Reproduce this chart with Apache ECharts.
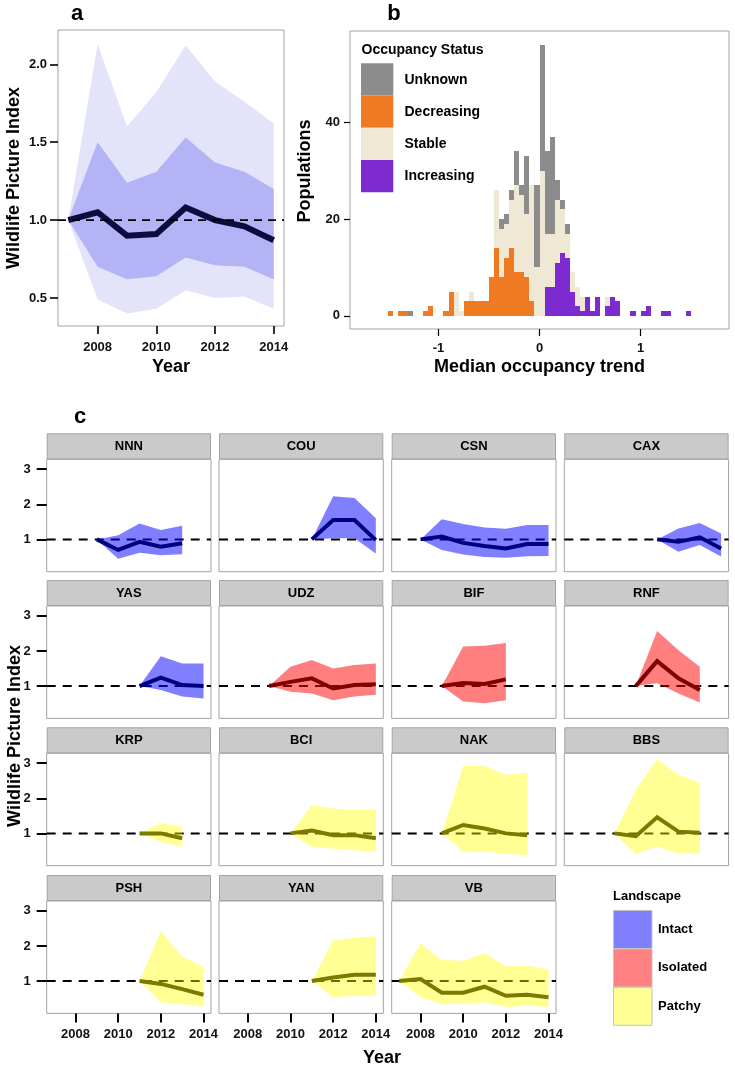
<!DOCTYPE html>
<html>
<head>
<meta charset="utf-8">
<script src="https://cdn.jsdelivr.net/npm/echarts@6/dist/echarts.min.js"></script>
<style>html,body{margin:0;padding:0;background:#fff}#chart{width:735px;height:1066px}</style>
</head>
<body>
<div id="chart"></div>
<script>
// ---------- Panel a data ----------
const aYears      = [2007, 2008, 2009, 2010, 2011, 2012, 2013, 2014];
const aIndex      = [1.00, 1.05, 0.90, 0.91, 1.08, 1.00, 0.96, 0.87];
const aInnerLow   = [1.00, 0.70, 0.62, 0.64, 0.76, 0.71, 0.70, 0.62];
const aInnerHigh  = [1.00, 1.50, 1.24, 1.31, 1.53, 1.37, 1.31, 1.20];
const aOuterLow   = [1.00, 0.49, 0.40, 0.43, 0.55, 0.50, 0.51, 0.43];
const aOuterHigh  = [1.00, 2.13, 1.60, 1.82, 2.12, 1.89, 1.76, 1.62];
const aYTicks     = [0.5, 1.0, 1.5, 2.0];
const yearTicks   = [2008, 2010, 2012, 2014];

// ---------- Panel b data (histogram, bin width 0.05) ----------
const binLeft = [-1.50,-1.45,-1.40,-1.35,-1.30,-1.25,-1.20,-1.15,-1.10,-1.05,
                 -1.00,-0.95,-0.90,-0.85,-0.80,-0.75,-0.70,-0.65,-0.60,-0.55,
                 -0.50,-0.45,-0.40,-0.35,-0.30,-0.25,-0.20,-0.15,-0.10,-0.05,
                  0.00, 0.05, 0.10, 0.15, 0.20, 0.25, 0.30, 0.35, 0.40, 0.45,
                  0.50, 0.55, 0.60, 0.65, 0.70, 0.75, 0.80, 0.85, 0.90, 0.95,
                  1.00, 1.05, 1.10, 1.15, 1.20, 1.25, 1.30, 1.35, 1.40, 1.45];
const binWidth = 0.05;
const increasingCounts = [0,0,0,0,0,0,0,0,0,0, 0,0,0,0,0,0,0,0,0,0, 0,0,0,0,0,0,0,0,0,0,
                          0,6,6,11,13,12,5,2,1,4, 1,4,0,2,4,3,0,0,1,0, 1,2,0,0,1,1,0,0,0,1];
const decreasingCounts = [1,0,1,1,0,0,0,1,2,0, 0,1,5,0,0,3,3,3,3,3, 8,14,8,12,14,9,9,8,3,0,
                          0,0,0,0,0,0,0,0,0,0, 0,0,0,0,0,0,0,0,0,0, 0,0,0,0,0,0,0,0,0,0];
const stableCounts     = [0,0,0,0,0,0,0,0,0,0, 0,0,0,5,1,0,2,0,0,0, 0,12,10,7,10,18,16,13,24,10,
                          30,11,11,13,9,5,4,4,3,0, 0,0,0,2,0,0,0,0,0,0, 0,0,0,0,0,0,0,0,0,0];
const unknownCounts    = [0,0,0,0,1,0,0,0,0,0, 0,0,0,0,0,0,0,0,0,0, 0,0,2,2,2,7,2,12,0,17,
                          26,17,20,4,2,2,0,0,0,0, 0,0,0,0,0,0,0,0,0,0, 0,0,0,0,0,0,0,0,0,0];
const statusNames  = ['Unknown', 'Decreasing', 'Stable', 'Increasing'];
const bXTicks = [-1, 0, 1];
const bYTicks = [0, 20, 40];

// ---------- Panel c data (years 2007..2014, null = no survey) ----------
const facetYears = [2007, 2008, 2009, 2010, 2011, 2012, 2013, 2014];
const facetNames = ['NNN','COU','CSN','CAX','YAS','UDZ','BIF','RNF','KRP','BCI','NAK','BBS','PSH','YAN','VB'];
const facetLandscape = ['Intact','Intact','Intact','Intact','Intact','Isolated','Isolated','Isolated',
                        'Patchy','Patchy','Patchy','Patchy','Patchy','Patchy','Patchy'];
const landscapeNames = ['Intact','Isolated','Patchy'];
const cYTicks = [1, 2, 3];

const NNN_index = [null,null,1.00,0.70,0.93,0.79,0.89,null];
const NNN_low   = [null,null,1.00,0.45,0.62,0.55,0.58,null];
const NNN_high  = [null,null,1.00,1.12,1.45,1.27,1.39,null];
const COU_index = [null,null,null,null,1.00,1.55,1.55,0.98];
const COU_low   = [null,null,null,null,1.00,1.03,1.03,0.60];
const COU_high  = [null,null,null,null,1.00,2.23,2.18,1.60];
const CSN_index = [null,1.00,1.08,0.90,0.81,0.74,0.87,0.87];
const CSN_low   = [null,1.00,0.70,0.57,0.50,0.48,0.52,0.53];
const CSN_high  = [null,1.00,1.57,1.44,1.34,1.30,1.41,1.41];
const CAX_index = [null,null,null,null,1.00,0.93,1.06,0.74];
const CAX_low   = [null,null,null,null,1.00,0.65,0.84,0.51];
const CAX_high  = [null,null,null,null,1.00,1.31,1.47,1.17];
const YAS_index = [null,null,null,null,1.00,1.24,1.03,1.00];
const YAS_low   = [null,null,null,null,1.00,0.89,0.70,0.65];
const YAS_high  = [null,null,null,null,1.00,1.85,1.64,1.64];
const UDZ_index = [null,null,1.00,1.12,1.22,0.93,1.03,1.05];
const UDZ_low   = [null,null,1.00,0.84,0.79,0.60,0.70,0.75];
const UDZ_high  = [null,null,1.00,1.55,1.74,1.50,1.60,1.64];
const BIF_index = [null,null,1.00,1.09,1.06,1.19,null,null];
const BIF_low   = [null,null,1.00,0.56,0.51,0.60,null,null];
const BIF_high  = [null,null,1.00,2.13,2.15,2.23,null,null];
const RNF_index = [null,null,null,1.00,1.71,1.22,0.89,null];
const RNF_low   = [null,null,null,1.00,1.08,0.79,0.53,null];
const RNF_high  = [null,null,null,1.00,2.57,2.02,1.55,null];
const KRP_index = [null,null,null,null,1.00,1.00,0.86,null];
const KRP_low   = [null,null,null,null,1.00,0.76,0.62,null];
const KRP_high  = [null,null,null,null,1.00,1.29,1.19,null];
const BCI_index = [null,null,null,1.00,1.08,0.95,0.95,0.86];
const BCI_low   = [null,null,null,1.00,0.62,0.57,0.52,0.48];
const BCI_high  = [null,null,null,1.00,1.81,1.71,1.67,1.67];
const NAK_index = [null,null,1.00,1.24,1.14,1.00,0.95,null];
const NAK_low   = [null,null,1.00,0.48,0.48,0.43,0.38,null];
const NAK_high  = [null,null,1.00,2.92,2.92,2.67,2.73,null];
const BBS_index = [null,null,1.00,0.92,1.46,1.05,1.02,null];
const BBS_low   = [null,null,1.00,0.41,0.62,0.43,0.43,null];
const BBS_high  = [null,null,1.00,2.24,3.11,2.67,2.45,null];
const PSH_index = [null,null,null,null,1.00,0.92,0.77,0.61];
const PSH_low   = [null,null,null,null,1.00,0.40,0.35,0.27];
const PSH_high  = [null,null,null,null,1.00,2.42,1.69,1.41];
const YAN_index = [null,null,null,null,1.00,1.10,1.18,1.18];
const YAN_low   = [null,null,null,null,1.00,0.54,0.58,0.58];
const YAN_high  = [null,null,null,null,1.00,2.16,2.24,2.28];
const VB_index  = [1.00,1.06,0.67,0.67,0.84,0.58,0.61,0.54];
const VB_low    = [1.00,0.54,0.35,0.35,0.40,0.26,0.30,0.26];
const VB_high   = [1.00,2.07,1.60,1.58,1.79,1.43,1.44,1.33];

const facetData = {
  NNN:[NNN_index,NNN_low,NNN_high], COU:[COU_index,COU_low,COU_high], CSN:[CSN_index,CSN_low,CSN_high],
  CAX:[CAX_index,CAX_low,CAX_high], YAS:[YAS_index,YAS_low,YAS_high], UDZ:[UDZ_index,UDZ_low,UDZ_high],
  BIF:[BIF_index,BIF_low,BIF_high], RNF:[RNF_index,RNF_low,RNF_high], KRP:[KRP_index,KRP_low,KRP_high],
  BCI:[BCI_index,BCI_low,BCI_high], NAK:[NAK_index,NAK_low,NAK_high], BBS:[BBS_index,BBS_low,BBS_high],
  PSH:[PSH_index,PSH_low,PSH_high], YAN:[YAN_index,YAN_low,YAN_high], VB:[VB_index,VB_low,VB_high]
};

// ---------- styling ----------
const FONT = '"Liberation Sans", Arial, Helvetica, sans-serif';
const BORDER = '#a3a3a3';
const X_MIN = 2006.65, X_MAX = 2014.35;
const statusColors = {Unknown:'#8c8c8c', Decreasing:'#ee7b22', Stable:'#eee8d5', Increasing:'#7d2ad0'};
const landFill = {Intact:'rgba(0,0,255,0.5)', Isolated:'rgba(255,0,0,0.5)', Patchy:'rgba(255,255,0,0.42)'};
const landKey  = {Intact:'#8080ff', Isolated:'#ff8080', Patchy:'#ffff94'};
const landLine = {Intact:'#000080', Isolated:'#800000', Patchy:'#7a7a00'};

const grids = [], xAxes = [], yAxes = [], series = [], graphics = [];

function tickLabel(size) {
  return {fontFamily: FONT, fontWeight: 'bold', fontSize: size, color: '#111'};
}
function bandSeries(gi, xs, lo, hi, color, z) {
  const pts = [];
  xs.forEach((x, i) => { if (lo[i] != null && hi[i] != null) pts.push([x, lo[i], hi[i]]); });
  return {
    type: 'custom', xAxisIndex: gi, yAxisIndex: gi, z: z, silent: true,
    data: pts, encode: {x: 0, y: [1, 2]},
    renderItem: function (params, api) {
      if (params.dataIndex !== 0) return null;
      const up = pts.map(p => api.coord([p[0], p[2]]));
      const dn = pts.slice().reverse().map(p => api.coord([p[0], p[1]]));
      return {type: 'polygon', shape: {points: up.concat(dn)}, style: {fill: color}};
    }
  };
}
function lineSeries(gi, xs, ys, color, width, z) {
  const pts = [];
  xs.forEach((x, i) => { if (ys[i] != null) pts.push([x, ys[i]]); });
  return {type: 'line', xAxisIndex: gi, yAxisIndex: gi, z: z, silent: true, data: pts,
          symbol: 'none', lineStyle: {color: color, width: width, cap: 'butt', join: 'miter'}};
}
function refSeries(gi, width, dash, z) {
  return {type: 'line', xAxisIndex: gi, yAxisIndex: gi, z: z, silent: true,
          data: [[X_MIN, 1], [X_MAX, 1]], symbol: 'none',
          lineStyle: {color: '#000', width: width, type: dash}};
}
function text(x, y, str, size, opts) {
  return Object.assign({type: 'text', x: x, y: y, silent: true,
    style: {text: str, fontFamily: FONT, fontWeight: 'bold', fontSize: size, fill: '#000',
            align: 'center', verticalAlign: 'middle'}}, opts || {});
}
const noLine = {show: false, onZero: false};

// ---------- Panel a ----------
grids.push({left: 58, top: 30, width: 226, height: 296, show: true, borderColor: BORDER, borderWidth: 1});
xAxes.push({gridIndex: 0, type: 'value', min: X_MIN, max: X_MAX, splitLine: {show: false},
  axisLine: noLine,
  axisTick: {show: true, length: 8, lineStyle: {color: '#000', width: 1.6}, customValues: yearTicks},
  axisLabel: Object.assign({margin: 15, customValues: yearTicks, formatter: v => String(v)}, tickLabel(13))});
yAxes.push({gridIndex: 0, type: 'value', min: 0.32, max: 2.22, splitLine: {show: false},
  axisLine: noLine,
  axisTick: {show: true, length: 8, lineStyle: {color: '#000', width: 1.6}, customValues: aYTicks},
  axisLabel: Object.assign({margin: 11, customValues: aYTicks, formatter: v => v.toFixed(1)}, tickLabel(13))});
series.push(bandSeries(0, aYears, aOuterLow, aOuterHigh, '#e3e3fa', 1));
series.push(bandSeries(0, aYears, aInnerLow, aInnerHigh, '#b3b3f5', 2));
series.push(lineSeries(0, aYears, aIndex, '#0c0c3e', 6, 3));
series.push(refSeries(0, 1.8, [8, 6], 4));

// ---------- Panel b ----------
grids.push({left: 350, top: 31, width: 379, height: 298, show: true, borderColor: BORDER, borderWidth: 1});
xAxes.push({gridIndex: 1, type: 'value', min: -1.875, max: 1.875, splitLine: {show: false},
  axisLine: noLine,
  axisTick: {show: true, length: 7, lineStyle: {color: '#000', width: 1.2}, customValues: bXTicks},
  axisLabel: Object.assign({margin: 13, customValues: bXTicks, formatter: v => String(v)}, tickLabel(13))});
yAxes.push({gridIndex: 1, type: 'value', min: -2.7, max: 58.8, splitLine: {show: false},
  axisLine: noLine,
  axisTick: {show: true, length: 6, lineStyle: {color: '#000', width: 1.2}, customValues: bYTicks},
  axisLabel: Object.assign({margin: 10, customValues: bYTicks, formatter: v => String(v)}, tickLabel(13))});

const stackOrder = [['Increasing', increasingCounts], ['Decreasing', decreasingCounts],
                    ['Stable', stableCounts], ['Unknown', unknownCounts]];
const base = binLeft.map(() => 0);
stackOrder.forEach(([name, counts]) => {
  const items = [];
  binLeft.forEach((x0, i) => {
    if (counts[i] > 0) {
      items.push([x0, x0 + binWidth, base[i], base[i] + counts[i]]);
      base[i] += counts[i];
    }
  });
  const col = statusColors[name];
  series.push({type: 'custom', name: name, xAxisIndex: 1, yAxisIndex: 1, silent: true, z: 2,
    data: items, encode: {x: [0, 1], y: [2, 3]},
    renderItem: function (params, api) {
      const p0 = api.coord([api.value(0), api.value(3)]);
      const p1 = api.coord([api.value(1), api.value(2)]);
      const x0 = Math.round(p0[0]), x1 = Math.round(p1[0]);
      const y0 = Math.round(p0[1]), y1 = Math.round(p1[1]);
      return {type: 'rect', shape: {x: x0, y: y0, width: x1 - x0, height: y1 - y0},
              style: {fill: col}};
    }});
});

// Occupancy legend
graphics.push({type: 'text', x: 361.5, y: 50.5, silent: true,
  style: {text: 'Occupancy Status', fontFamily: FONT, fontWeight: 'bold', fontSize: 14, fill: '#000',
          align: 'left', verticalAlign: 'middle'}});
statusNames.forEach((name, k) => {
  const top = 63.3 + k * 32.25;
  graphics.push({type: 'rect', silent: true, shape: {x: 361, y: top, width: 32.3, height: 32.25},
    style: {fill: statusColors[name]}});
  graphics.push({type: 'text', x: 404.5, y: top + 16.5, silent: true,
    style: {text: name, fontFamily: FONT, fontWeight: 'bold', fontSize: 14, fill: '#000',
            align: 'left', verticalAlign: 'middle'}});
});

// ---------- Panel c ----------
const colLeft = [46.7, 219.0, 391.7, 564.3];
const rowTop  = [459.3, 606.0, 753.3, 901.0];
const panelW = 164.3, panelH = 112.4, stripH = 26;
facetNames.forEach((name, k) => {
  const r = Math.floor(k / 4), c = k % 4;
  const gi = grids.length;
  const bottomRow = (r === 3);
  grids.push({left: colLeft[c], top: rowTop[r], width: panelW, height: panelH,
              show: true, borderColor: BORDER, borderWidth: 1});
  xAxes.push({gridIndex: gi, type: 'value', min: X_MIN, max: X_MAX, splitLine: {show: false},
    axisLine: noLine,
    axisTick: {show: bottomRow, length: 9, lineStyle: {color: '#000', width: 2}, customValues: yearTicks},
    axisLabel: Object.assign({show: bottomRow, margin: 15, customValues: yearTicks, formatter: v => String(v)}, tickLabel(13))});
  yAxes.push({gridIndex: gi, type: 'value', min: 0.08, max: 3.28, splitLine: {show: false},
    axisLine: noLine,
    axisTick: {show: c === 0, length: 10, lineStyle: {color: '#000', width: 2}, customValues: cYTicks},
    axisLabel: Object.assign({show: c === 0, margin: 16, customValues: cYTicks, formatter: v => String(v)}, tickLabel(13))});
  const land = facetLandscape[k];
  const d = facetData[name];
  series.push(refSeries(gi, 2, [9, 7], 1));
  series.push(bandSeries(gi, facetYears, d[1], d[2], landFill[land], 2));
  series.push(lineSeries(gi, facetYears, d[0], landLine[land], 4, 3));
  graphics.push({type: 'rect', silent: true,
    shape: {x: colLeft[c] + 0.5, y: rowTop[r] - stripH + 0.5, width: panelW - 1, height: stripH - 1},
    style: {fill: '#cacaca', stroke: BORDER, lineWidth: 1}});
  graphics.push(text(colLeft[c] + panelW / 2, rowTop[r] - stripH / 2, name, 13));
});

// Landscape legend
graphics.push({type: 'text', x: 613, y: 896.5, silent: true,
  style: {text: 'Landscape', fontFamily: FONT, fontWeight: 'bold', fontSize: 13, fill: '#000',
          align: 'left', verticalAlign: 'middle'}});
landscapeNames.forEach((name, k) => {
  const top = 910 + k * 38.4;
  graphics.push({type: 'rect', silent: true, shape: {x: 613.5, y: top + 0.5, width: 38.5, height: 38},
    style: {fill: landKey[name], stroke: '#c4c4c4', lineWidth: 1}});
  graphics.push({type: 'text', x: 658, y: top + 19.5, silent: true,
    style: {text: name, fontFamily: FONT, fontWeight: 'bold', fontSize: 13, fill: '#000',
            align: 'left', verticalAlign: 'middle'}});
});

// titles and axis titles
graphics.push(text(77, 14, 'a', 22));
graphics.push(text(394, 14, 'b', 22));
graphics.push(text(80, 417, 'c', 22));
graphics.push(text(14, 178, 'Wildlife Picture Index', 18, {rotation: Math.PI / 2}));
graphics.push(text(171, 367, 'Year', 18));
graphics.push(text(305, 171, 'Populations', 18, {rotation: Math.PI / 2}));
graphics.push(text(539.5, 367, 'Median occupancy trend', 18));
graphics.push(text(15, 736, 'Wildlife Picture Index', 18, {rotation: Math.PI / 2}));
graphics.push(text(382, 1058, 'Year', 18));

const chart = echarts.init(document.getElementById('chart'), null, {renderer: 'canvas', width: 735, height: 1066});
chart.setOption({
  animation: false,
  backgroundColor: '#ffffff',
  grid: grids, xAxis: xAxes, yAxis: yAxes, series: series, graphic: graphics
});
</script>
</body>
</html>
